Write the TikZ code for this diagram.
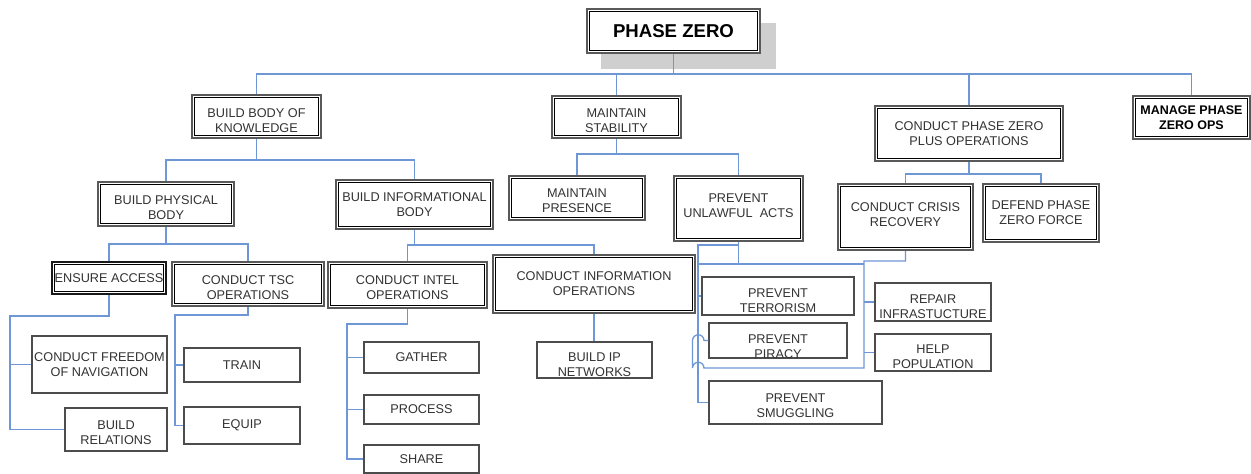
\documentclass[tikz,border=0pt]{standalone}
\usepackage{fontspec}
\setmainfont{Liberation Sans}
\usetikzlibrary{backgrounds,calc}
\definecolor{conncol}{RGB}{111,151,214}
\definecolor{shd}{RGB}{207,207,207}
\begin{document}
\begin{tikzpicture}[x=1pt,y=-1pt,
 base/.style={font=\fontsize{12.7}{15}\selectfont, text=black!80, align=center, inner sep=1pt},
 dbox/.style={base, draw=black!65, line width=2.2pt, fill=white,
   path picture={\draw[black, line width=0.8pt] ([shift={(2.6pt,-2.6pt)}]path picture bounding box.north west) rectangle ([shift={(-2.6pt,2.6pt)}]path picture bounding box.south east);}},
 sbox/.style={base, draw=black!70, line width=1.4pt, fill=white},
 lbl/.style={base},
 cn/.style={draw=conncol, line width=1.3pt},
 sz/.style n args={2}{minimum width=#1pt, minimum height=#2pt},
 dn/.style={execute at begin node={\rule{0pt}{#1}}},
 upw/.style={execute at end node={\rule[-#1]{0pt}{0pt}}},
]
\useasboundingbox (0,0) rectangle (1251,474);

% upper boxes
\node[dbox, sz={173}{44}, font=\fontsize{18.6}{21}\selectfont\bfseries, text=black] (pz) at (673.5,31) {PHASE ZERO};
\node[dbox, sz={129}{43}, dn=32.3pt] (bbok) at (256.5,116.5) {BUILD BODY OF\\KNOWLEDGE};
\node[dbox, sz={129}{42}, dn=31.3pt] (ms) at (616.5,117) {MAINTAIN\\STABILITY};
\node[dbox, sz={188}{55}] (cpz) at (969,133.5) {CONDUCT PHASE ZERO\\PLUS OPERATIONS};
\node[dbox, sz={117}{43}, font=\fontsize{12.5}{15}\selectfont\bfseries, text=black] (mpz) at (1191.5,117.5) {MANAGE PHASE\\ZERO OPS};
\node[dbox, sz={136}{44}, dn=30.3pt] (bpb) at (166,204) {BUILD PHYSICAL\\BODY};
\node[dbox, sz={157}{49}] (bib) at (414.5,204.5) {BUILD INFORMATIONAL\\BODY};
\node[dbox, sz={136}{44}, dn=29.3pt] (mp) at (577,198) {MAINTAIN\\PRESENCE};
\node[dbox, sz={129}{65}, upw=6pt] (pua) at (738.5,208.5) {PREVENT\\UNLAWFUL\ \ ACTS};
\node[dbox, sz={135}{66}, upw=4pt] (ccr) at (905.5,217) {CONDUCT CRISIS\\RECOVERY};
\node[dbox, sz={116}{58}] (dpzf) at (1041,213) {DEFEND PHASE\\ZERO FORCE};
\node[dbox, sz={114}{32}, draw=black!90] (ea) at (109,278) {ENSURE ACCESS};
\node[dbox, sz={152}{44}, dn=30.3pt] (tsc) at (248,284) {CONDUCT TSC\\OPERATIONS};
\node[dbox, sz={159}{46}, dn=29.3pt] (cio) at (407.5,285) {CONDUCT INTEL\\OPERATIONS};
\node[dbox, sz={202}{58}] (cinfo) at (594,284) {CONDUCT INFORMATION\\OPERATIONS};

% leaves
\node[sbox, sz={135}{57}] (cfn) at (99.5,364.5) {CONDUCT FREEDOM\\OF NAVIGATION};
\node[sbox, sz={102}{43}, dn=30.3pt] (br) at (116,429.5) {BUILD\\RELATIONS};
\node[sbox, sz={116}{34}] (train) at (242,365) {TRAIN};
\node[sbox, sz={116}{37}] (equip) at (242,425.5) {EQUIP};
\node[sbox, sz={115}{31}] (gather) at (421.5,357.5) {GATHER};
\node[sbox, sz={115}{29}] (process) at (421.5,409.5) {PROCESS};
\node[sbox, sz={115}{28}] (share) at (421.5,459) {SHARE};
\node[sbox, sz={115}{36}] (bip) at (594.5,360) {};
\node[lbl] (bipt) at ([yshift=-4.5pt]bip.center) {BUILD IP\\NETWORKS};
\node[sbox, sz={152}{38}] (pt) at (778,296) {};
\node[lbl] (ptt) at ([yshift=-4.5pt]pt.center) {PREVENT\\TERRORISM};
\node[sbox, sz={138}{35}] (pp) at (778,340.5) {};
\node[lbl] (ppt) at ([yshift=-6pt]pp.center) {PREVENT\\PIRACY};
\node[sbox, sz={173}{43}] (ps) at (795.5,402.5) {};
\node[lbl] (pst) at ([yshift=-3pt]ps.center) {PREVENT\\SMUGGLING};
\node[sbox, sz={116}{38}] (ri) at (933,302) {};
\node[lbl] (rit) at ([yshift=-4.5pt]ri.center) {REPAIR\\INFRASTUCTURE};
\node[sbox, sz={116}{37}] (hp) at (933,352.5) {};
\node[lbl] (hpt) at ([yshift=-4.5pt]hp.center) {HELP\\POPULATION};

\begin{scope}[on background layer]
\fill[white] (0,0) rectangle (1251,474);
\fill[shd] ([shift={(15pt,-15pt)}]pz.north west) rectangle ([shift={(15pt,-15pt)}]pz.south east);
\end{scope}

% connectors
\coordinate (t0) at (0,74);
\draw[cn] (pz.south) -- (pz.south |- t0);
\draw[cn] (bbok.north) |- (mpz.north |- t0) -- (mpz.north);
\draw[cn] (ms.north) -- (ms.north |- t0);
\draw[cn] (cpz.north) -- (cpz.north |- t0);

\coordinate (t1) at (0,160);
\draw[cn] (bbok.south) -- (bbok.south |- t1);
\draw[cn] (bpb.north) |- (bib.north |- t1) -- (bib.north);

\coordinate (t2) at (0,154);
\draw[cn] (ms.south) -- (ms.south |- t2);
\draw[cn] (mp.north) |- (pua.north |- t2) -- (pua.north);

\coordinate (t3) at (0,174);
\draw[cn] (cpz.south) -- (cpz.south |- t3);
\draw[cn] (ccr.north) |- (dpzf.north |- t3) -- (dpzf.north);

\coordinate (t4) at (0,244);
\draw[cn] (bpb.south) -- (bpb.south |- t4);
\draw[cn] (ea.north) |- (tsc.north |- t4) -- (tsc.north);

\coordinate (t5) at (0,245);
\draw[cn] (bib.south) -- (bib.south |- t5);
\draw[cn] (cio.north) |- (cinfo.north |- t5) -- (cinfo.north);

\coordinate (l1) at (10,316);
\draw[cn] (ea.south) |- (l1) |- (br.west);
\draw[cn] (l1 |- cfn.west) -- (cfn.west);

\coordinate (l2) at (175,315);
\draw[cn] (tsc.south) |- (l2) |- (equip.west);
\draw[cn] (l2 |- train.west) -- (train.west);

\coordinate (l3) at (347,324);
\draw[cn] (cio.south) |- (l3) |- (share.west);
\draw[cn] (l3 |- gather.west) -- (gather.west);
\draw[cn] (l3 |- process.west) -- (process.west);

\draw[cn] (cinfo.south) -- (cinfo.south |- bip.north);

\coordinate (l4) at (698,245);
\coordinate (l5) at (864,264);
\draw[cn] (pua.south) |- (l4) |- (ps.west);
\draw[cn] (l4 |- pt.west) -- (pt.west);
\draw[cn] (pua.south) -- (pua.south |- l5);
\draw[cn] (l4 |- l5) -- (l5);

\coordinate (l6) at (864,261);
\coordinate (l7) at (864,368);
\coordinate (j1) at (704,368);
\coordinate (j2) at (692.5,340.5);
\draw[cn] (ccr.south) |- (l6) -- (l7) -- (j1) arc[start angle=0,end angle=180,radius=5.75pt] -| (j2) arc[start angle=180,end angle=0,radius=5.75pt] -- (pp.west);
\draw[cn] (l6 |- ri.west) -- (ri.west);
\draw[cn] (l6 |- hp.west) -- (hp.west);
\end{tikzpicture}
\end{document}
